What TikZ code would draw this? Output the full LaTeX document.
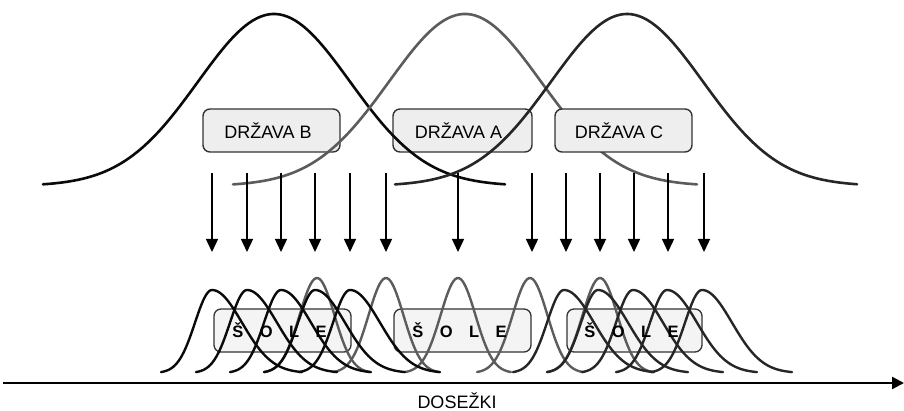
\documentclass[tikz,border=0pt]{standalone}
\usepackage{fontspec}
\setmainfont{Liberation Sans}
\usetikzlibrary{arrows.meta}
\definecolor{cblack}{HTML}{0A0A0A}
\definecolor{cdark}{HTML}{262626}
\definecolor{cgray}{HTML}{5C5C5C}
\definecolor{boxfill}{HTML}{EEEEEE}
\definecolor{boxfilltwo}{HTML}{F4F4F4}
\definecolor{boxline}{HTML}{333333}
\begin{document}
\begin{tikzpicture}[x=1pt,y=-1pt,
  statebox/.style={draw=boxline, line width=1.4pt, fill=boxfill, rounded corners=7pt,
    minimum height=43pt, inner sep=0pt, font=\fontsize{18}{20}\selectfont},
  schoolbox/.style={draw=boxline, line width=1.3pt, fill=boxfilltwo, rounded corners=7pt,
    minimum width=137pt, minimum height=43pt, inner sep=0pt},
  schooltext/.style={inner sep=0pt, font=\bfseries\fontsize{16.5}{19}\selectfont},
  bigcurve/.style={line width=2.6pt, line join=round, line cap=round},
  smallcurve/.style={line width=2.4pt, line join=round, line cap=round},
  arr/.style={line width=1.3pt, -{Triangle[width=12pt,length=13pt]}},
  axisline/.style={line width=2.4pt, -{Triangle[width=12pt,length=12pt]}}
]
\useasboundingbox (0,0) rectangle (904,411);

% state boxes under the curves
\node[statebox, minimum width=137pt] (dB) at (271.5,130.5) {DRŽAVA B\hspace*{7pt}};
\node[statebox, minimum width=139pt] (dA) at (462.5,130.5) {DRŽAVA A\hspace*{8pt}};

% big curves
\draw[bigcurve, cblack] plot[domain=43:505, samples=120] (\x,{186-172*exp(0-0.5*((\x-274)/76)^2)});
\draw[bigcurve, cgray] plot[domain=233:697, samples=120] (\x,{186-172*exp(0-0.5*((\x-465)/76)^2)});
\draw[bigcurve, cdark] plot[domain=395:857, samples=120] (\x,{186-172*exp(0-0.5*((\x-627)/76)^2)});

\node[statebox, minimum width=137pt] (dC) at (623.5,130.5) {DRŽAVA C\hspace*{9pt}};

% arrows
\foreach \i/\xx in {1/212,2/247,3/281,4/315,5/350,6/386,7/458,8/532,9/566,10/600,11/634,12/668,13/704}{
  \coordinate (at\i) at (\xx,173);
  \coordinate (ab\i) at (\xx,252);
  \draw[arr] (at\i) -- (ab\i);
}

% school boxes
\node[schoolbox] (s1) at (282.5,330.5) {};
\node[schoolbox] (s2) at (462.5,330.5) {};
\node[schoolbox, minimum width=135pt] (s3) at (634.5,330.5) {};

% small gray curves (state A schools)
\foreach \m in {317,386,458,530,600}{
  \pgfmathsetmacro\lo{\m-53}
  \pgfmathsetmacro\hi{\m+53}
  \draw[smallcurve, cgray] plot[domain=\lo:\hi, samples=60] (\x,{373-95*exp(0-0.5*((\x-\m)/17.5)^2)});
}
% small black curves (state B schools)
\foreach \m in {212,247,281,315,350}{
  \pgfmathsetmacro\lo{\m-51}
  \pgfmathsetmacro\hi{\m+90}
  \draw[smallcurve, cblack] plot[domain=\lo:\m, samples=30] (\x,{373-83*exp(0-0.5*((\x-\m)/17)^2)})
    -- plot[domain=\m:\hi, samples=45] (\x,{373-83*exp(0-0.5*((\x-\m)/30)^2)});
}
% small dark curves (state C schools)
\foreach \m in {564,598,633,667,702}{
  \pgfmathsetmacro\lo{\m-51}
  \pgfmathsetmacro\hi{\m+90}
  \draw[smallcurve, cdark] plot[domain=\lo:\m, samples=30] (\x,{373-83*exp(0-0.5*((\x-\m)/17)^2)})
    -- plot[domain=\m:\hi, samples=45] (\x,{373-83*exp(0-0.5*((\x-\m)/30)^2)});
}

% school labels on top
\node[schooltext] (t1) at ([xshift=-3pt]s1.center) {Š\hspace{16.5pt}O\hspace{16.5pt}L\hspace{16.5pt}E};
\node[schooltext] (t2) at ([xshift=-3pt]s2.center) {Š\hspace{16.5pt}O\hspace{16.5pt}L\hspace{16.5pt}E};
\node[schooltext] (t3) at ([xshift=-3pt]s3.center) {Š\hspace{16.5pt}O\hspace{16.5pt}L\hspace{16.5pt}E};

% axis
\coordinate (ax0) at (3,383);
\coordinate (ax1) at (904,383);
\draw[axisline] (ax0) -- (ax1);
\node[font=\fontsize{18}{20}\selectfont, inner sep=0pt] (lab) at (457,401) {DOSEŽKI};
\end{tikzpicture}
\end{document}
